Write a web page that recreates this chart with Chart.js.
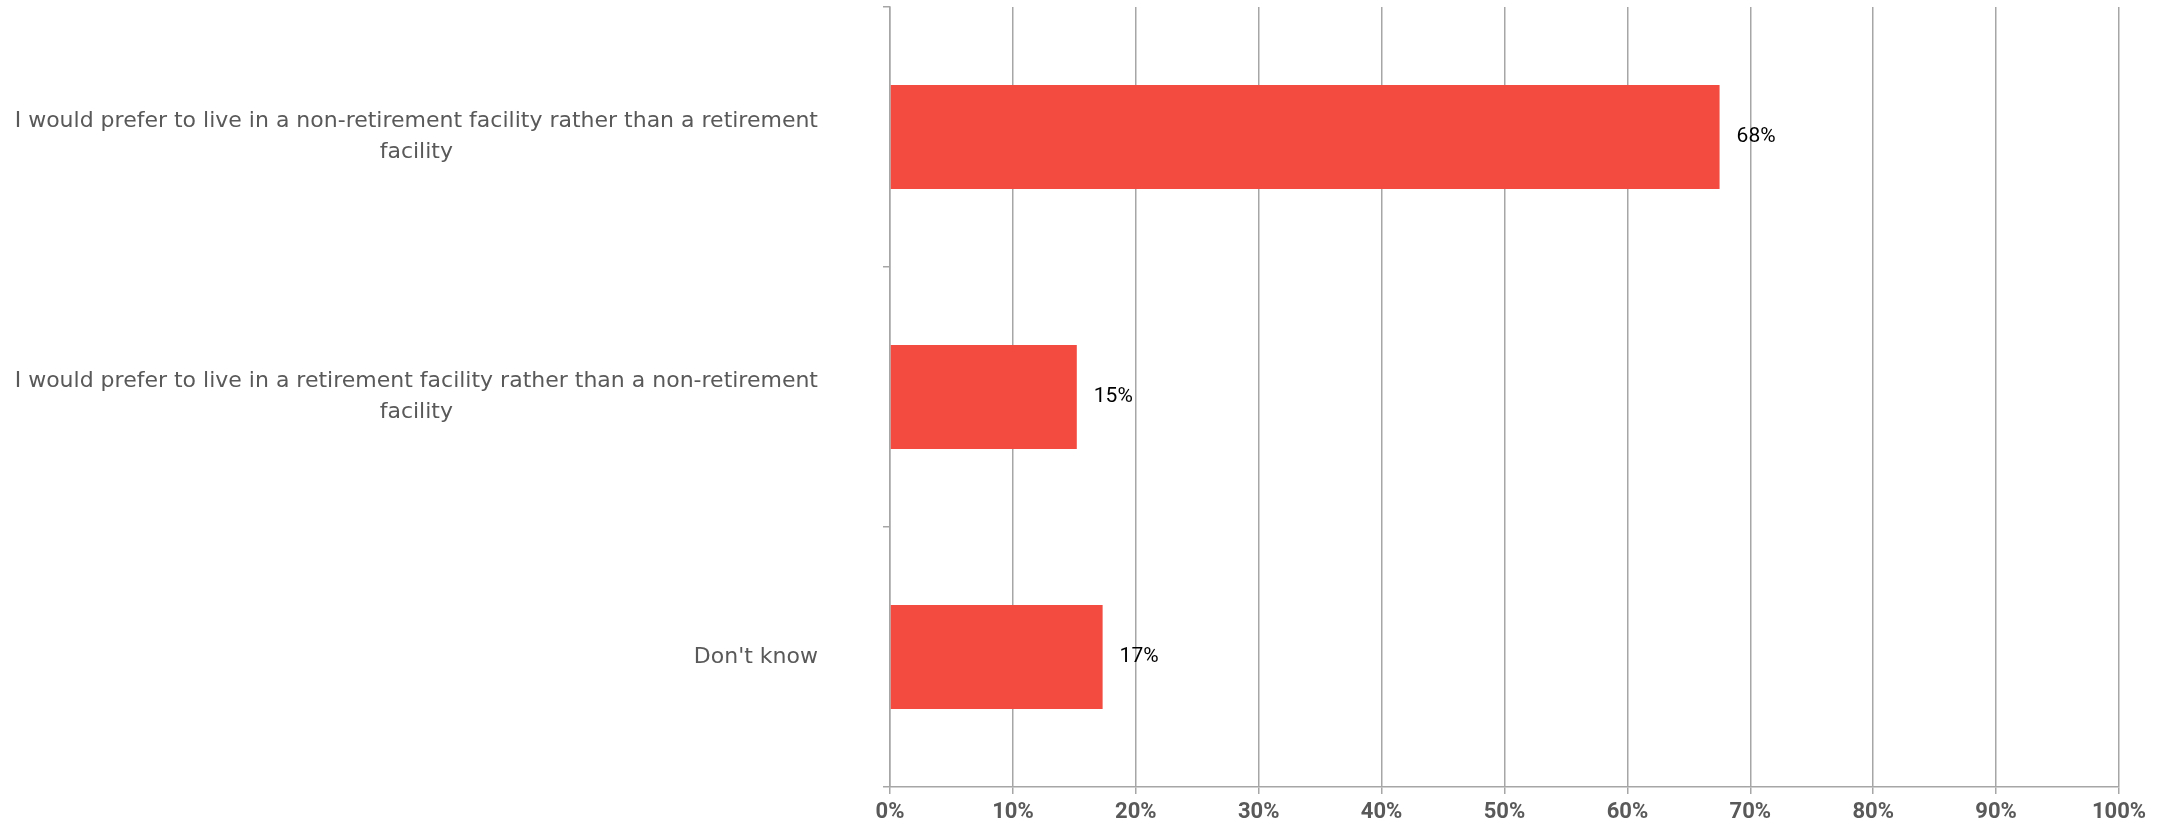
<!DOCTYPE html>
<html>
<head>
<meta charset="utf-8">
<script src="https://cdn.jsdelivr.net/npm/chart.js@4.4.1/dist/chart.umd.min.js"></script>
<style>
  html, body { margin: 0; padding: 0; background: #fff; }
  #wrap { width: 2175px; height: 829px; }
</style>
</head>
<body>
<div id="wrap"><canvas id="myChart" width="2175" height="829"></canvas></div>
<script>
// chart data
var categories = [
  ["I would prefer to live in a non-retirement facility rather than a retirement", "facility"],
  ["I would prefer to live in a retirement facility rather than a non-retirement", "facility"],
  ["Don't know"]
];
var values = [67.5, 15.2, 17.3];
var tickLabels = ["0%", "10%", "20%", "30%", "40%", "50%", "60%", "70%", "80%", "90%", "100%"];

var gridColor = '#a6a6a6';
var catFont = '22px "DejaVu Sans"';
var valueFont = '21px Roboto';

// category labels: block right-aligned, lines centered inside the block
var catLabels = {
  id: 'catLabels',
  afterDraw: function(chart) {
    var ctx = chart.ctx;
    var ys = chart.scales.y;
    ctx.save();
    ctx.font = catFont;
    ctx.fillStyle = '#595959';
    ctx.textAlign = 'center';
    ctx.textBaseline = 'middle';
    var right = ys.right - 72;
    categories.forEach(function(lines, i) {
      var y = ys.getPixelForTick(i);
      var widest = 0;
      lines.forEach(function(l) { widest = Math.max(widest, ctx.measureText(l).width); });
      var cx = right - widest / 2;
      lines.forEach(function(l, j) {
        ctx.fillText(l, cx, y + (j - (lines.length - 1) / 2) * 31);
      });
    });
    ctx.restore();
  }
};

// value labels at the end of each bar
var valueLabels = {
  id: 'valueLabels',
  afterDatasetsDraw: function(chart) {
    var ctx = chart.ctx;
    var meta = chart.getDatasetMeta(0);
    ctx.save();
    ctx.font = valueFont;
    ctx.fillStyle = '#000';
    ctx.textAlign = 'left';
    ctx.textBaseline = 'middle';
    meta.data.forEach(function(bar, i) {
      ctx.fillText(Math.round(values[i]) + '%', bar.x + 17, bar.y);
    });
    ctx.restore();
  }
};

function draw() {
  var ctx = document.getElementById("myChart").getContext('2d');
  new Chart(ctx, {
    type: 'bar',
    data: {
      labels: categories,
      datasets: [{
        data: values,
        backgroundColor: 'rgb(244,75,64)',
        borderWidth: 0,
        barPercentage: 0.4,
        categoryPercentage: 1
      }]
    },
    options: {
      indexAxis: 'y',
      responsive: false,
      animation: false,
      layout: {
        padding: { top: 7, right: 56, left: 0, bottom: 0 }
      },
      plugins: {
        legend: { display: false },
        tooltip: { enabled: false }
      },
      scales: {
        x: {
          min: 0,
          max: 100,
          afterFit: function(s) { s.height = 42; },
          grid: { color: gridColor, lineWidth: 1.5, tickLength: 7 },
          border: { color: gridColor, width: 1.5 },
          ticks: {
            stepSize: 10,
            padding: 5,
            color: '#595959',
            font: { family: 'Roboto', size: 22, weight: 'bold' },
            callback: function(v, i) { return tickLabels[i]; }
          }
        },
        y: {
          afterFit: function(s) { s.width = 890; },
          grid: { drawOnChartArea: false, offset: true, color: gridColor, lineWidth: 1.5, tickLength: 7 },
          border: { color: gridColor, width: 1.5 },
          ticks: { display: false }
        }
      }
    },
    plugins: [catLabels, valueLabels]
  });
}

// make sure the local fonts are ready before drawing on the canvas
Promise.all([
  document.fonts.load('bold 22px Roboto'),
  document.fonts.load(catFont),
  document.fonts.load(valueFont)
]).then(draw, draw);
</script>
</body>
</html>
